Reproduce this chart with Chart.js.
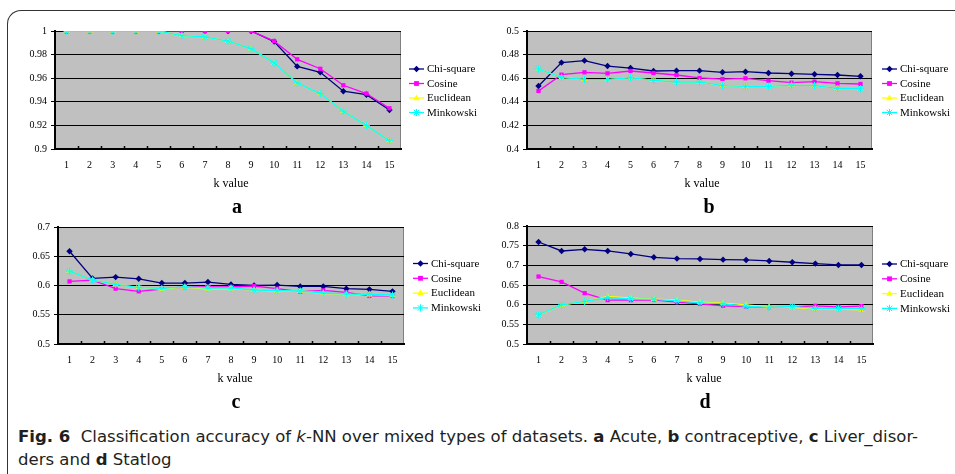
<!DOCTYPE html>
<html>
<head>
<meta charset="utf-8">
<script src="https://cdn.jsdelivr.net/npm/chart.js@4.4.1/dist/chart.umd.min.js"></script>
<style>
  body { margin: 0; background: #fff; }
  #wrap { position: relative; width: 955px; height: 474px; overflow: hidden; background: #fff; }
  #frame { position: absolute; left: 7px; top: 10px; width: 1000px; height: 500px;
           border-top: 1.5px solid #333; border-left: 1.5px solid #333; border-top-left-radius: 14px; }
  canvas { position: absolute; }
  .lbl { position: absolute; transform: translate(-50%, -50%); font-family: "Liberation Serif", serif;
         white-space: nowrap; color: #000; }
  .axt { font-size: 12px; }
  .let { font-size: 20px; font-weight: bold; }
  .cap { position: absolute; left: 18px; font-family: "DejaVu Sans Condensed", "Liberation Sans", sans-serif;
         font-size: 15px; color: #231f20; white-space: nowrap; transform-origin: left center; }
</style>
</head>
<body>
<div id="wrap">
  <div id="frame"></div>
  <canvas id="ca"></canvas>
  <canvas id="cb"></canvas>
  <canvas id="cc"></canvas>
  <canvas id="cd"></canvas>
  <div class="lbl axt" style="left:231px;top:183px">k value</div>
  <div class="lbl axt" style="left:702px;top:183px">k value</div>
  <div class="lbl axt" style="left:235px;top:378px">k value</div>
  <div class="lbl axt" style="left:704px;top:378px">k value</div>
  <div class="lbl let" style="left:237px;top:206px">a</div>
  <div class="lbl let" style="left:709px;top:206px">b</div>
  <div class="lbl let" style="left:236px;top:401px">c</div>
  <div class="lbl let" style="left:705px;top:401px">d</div>
  <div class="cap" id="cap1" style="top:428px"><b>Fig. 6</b>&nbsp; Classification accuracy of <i>k</i>-NN over mixed types of datasets. <b>a</b> Acute, <b>b</b> contraceptive, <b>c</b> Liver_disor-</div>
  <div class="cap" id="cap2" style="top:451px">ders and <b>d</b> Statlog</div>
</div>
<script>
const kValues = ['1','2','3','4','5','6','7','8','9','10','11','12','13','14','15'];
const seriesNames = ['Chi-square', 'Cosine', 'Euclidean', 'Minkowski'];

// a: Acute
const acuteChi  = [1, 1, 1, 1, 1, 1, 1, 1, 1, 0.991, 0.970, 0.965, 0.949, 0.946, 0.933];
const acuteCos  = [1, 1, 1, 1, 1, 1, 1, 1, 1, 0.9915, 0.976, 0.968, 0.954, 0.947, 0.9345];
const acuteEuc  = [1, 1, 1, 1, 1, 0.996, 0.995, 0.9915, 0.985, 0.973, 0.956, 0.947, 0.932, 0.920, 0.907];
const acuteMink = [1, 1, 1, 1, 1, 0.996, 0.995, 0.9915, 0.985, 0.973, 0.956, 0.947, 0.932, 0.920, 0.907];

// b: contraceptive
const contraChi  = [0.4534, 0.4732, 0.4749, 0.4703, 0.4686, 0.4661, 0.4664, 0.4664, 0.465, 0.4655, 0.4644, 0.4638, 0.4633, 0.4627, 0.4616];
const contraCos  = [0.4492, 0.463, 0.465, 0.4641, 0.4661, 0.4644, 0.4627, 0.4602, 0.4593, 0.4599, 0.4579, 0.4562, 0.4571, 0.4556, 0.4551];
const contraEuc  = [0.4678, 0.4607, 0.459, 0.4588, 0.4605, 0.4582, 0.4568, 0.4568, 0.4537, 0.4531, 0.4531, 0.4542, 0.4537, 0.4514, 0.4511];
const contraMink = [0.4678, 0.4607, 0.459, 0.4588, 0.4605, 0.4582, 0.4568, 0.4568, 0.4537, 0.4531, 0.4531, 0.4542, 0.4537, 0.4514, 0.4511];

// c: Liver_disorders
const liverChi  = [0.6585, 0.6121, 0.6144, 0.6115, 0.6042, 0.6042, 0.6059, 0.6019, 0.6002, 0.6008, 0.5985, 0.5985, 0.5946, 0.5934, 0.590];
const liverCos  = [0.607, 0.6093, 0.5946, 0.590, 0.594, 0.5974, 0.5974, 0.5974, 0.5991, 0.5946, 0.5895, 0.5917, 0.5883, 0.5821, 0.5821];
const liverEuc  = [0.6246, 0.6093, 0.6019, 0.5968, 0.5934, 0.5974, 0.594, 0.5946, 0.5923, 0.5906, 0.5906, 0.5866, 0.5849, 0.5844, 0.5832];
const liverMink = [0.6246, 0.6093, 0.6019, 0.5962, 0.5951, 0.5974, 0.5957, 0.5957, 0.5923, 0.5912, 0.5906, 0.5872, 0.5855, 0.5849, 0.5838];

// d: Statlog
const statChi  = [0.7593, 0.7365, 0.7407, 0.7365, 0.7289, 0.7204, 0.7171, 0.7162, 0.7145, 0.7137, 0.7111, 0.7078, 0.7044, 0.701, 0.701];
const statCos  = [0.6715, 0.6579, 0.6292, 0.6115, 0.6115, 0.6123, 0.6064, 0.6022, 0.5971, 0.5954, 0.5938, 0.5946, 0.5971, 0.5946, 0.5963];
const statEuc  = [0.5743, 0.5988, 0.6081, 0.6208, 0.6166, 0.614, 0.6115, 0.6064, 0.6039, 0.5997, 0.5946, 0.5929, 0.5895, 0.5887, 0.587];
const statMink = [0.5743, 0.5997, 0.6081, 0.6182, 0.6149, 0.6132, 0.6098, 0.6047, 0.6022, 0.5963, 0.5929, 0.5954, 0.5904, 0.5904, 0.5904];

const colors = ['#000080', '#FF00FF', '#FFFF00', '#00FFFF'];
const markers = ['rectRot', 'rect', 'triangle', 'star'];
const markerSize = [3.2, 3, 3.6, 3.6];
const serif = '"Liberation Serif", "Times New Roman", serif';

function drawMarker(ctx, style, x, y, r, color) {
    ctx.save();
    ctx.fillStyle = color;
    ctx.strokeStyle = color;
    ctx.lineWidth = 1;
    ctx.beginPath();
    if (style === 'rectRot') {
        ctx.moveTo(x, y - r); ctx.lineTo(x + r, y); ctx.lineTo(x, y + r); ctx.lineTo(x - r, y);
        ctx.closePath(); ctx.fill();
    } else if (style === 'rect') {
        const s = r * 0.8;
        ctx.rect(x - s, y - s, 2 * s, 2 * s); ctx.fill();
    } else if (style === 'triangle') {
        ctx.moveTo(x, y - r); ctx.lineTo(x + r * 0.9, y + r * 0.6); ctx.lineTo(x - r * 0.9, y + r * 0.6);
        ctx.closePath(); ctx.fill();
    } else {
        const d = r * 0.75;
        ctx.moveTo(x - d, y - d); ctx.lineTo(x + d, y + d);
        ctx.moveTo(x + d, y - d); ctx.lineTo(x - d, y + d);
        ctx.moveTo(x, y - r); ctx.lineTo(x, y + r);
        ctx.stroke();
    }
    ctx.restore();
}

// grey plot background, inward x ticks and the line+marker legend
const panelPlugin = {
    id: 'panel',
    beforeDraw(chart) {
        const a = chart.chartArea;
        const ctx = chart.ctx;
        ctx.save();
        ctx.fillStyle = '#C0C0C0';
        ctx.fillRect(a.left, a.top, a.right - a.left, a.bottom - a.top);
        ctx.strokeStyle = '#808080';
        ctx.lineWidth = 1;
        ctx.beginPath();
        ctx.moveTo(a.right - 0.5, a.top); ctx.lineTo(a.right - 0.5, a.bottom);
        ctx.stroke();
        ctx.restore();
    },
    afterDraw(chart, args, opts) {
        const ctx = chart.ctx;
        const xs = chart.scales.x;
        const a = chart.chartArea;
        ctx.save();
        ctx.strokeStyle = '#000';
        ctx.lineWidth = 1.5;
        ctx.beginPath();
        for (let i = 0; i < kValues.length - 1; i++) {
            const px = Math.round((xs.getPixelForTick(i) + xs.getPixelForTick(i + 1)) / 2) + 0.5;
            ctx.moveTo(px, a.bottom); ctx.lineTo(px, a.bottom - 3);
        }
        ctx.stroke();
        // legend
        ctx.font = '11px ' + serif;
        ctx.textBaseline = 'middle';
        ctx.fillStyle = '#000';
        seriesNames.forEach((name, i) => {
            const y = opts.ly + i * opts.gap;
            ctx.strokeStyle = colors[i];
            ctx.lineWidth = 1.3;
            ctx.beginPath();
            ctx.moveTo(opts.lx, y); ctx.lineTo(opts.lx + 15, y);
            ctx.stroke();
            drawMarker(ctx, markers[i], opts.lx + 7.5, y, markerSize[i], colors[i]);
            ctx.fillStyle = '#000';
            ctx.fillText(name, opts.lx + 18, y + 0.5);
        });
        ctx.restore();
    }
};

function makePanel(id, plot, yMin, yMax, step, values, legend) {
    const canvas = document.getElementById(id);
    const left = plot.l - 50, top = plot.t - 10;
    const width = legend.x + 78 - left, height = plot.b + 27 - top;
    canvas.width = width; canvas.height = height;
    canvas.style.left = left + 'px'; canvas.style.top = top + 'px';
    canvas.style.width = width + 'px'; canvas.style.height = height + 'px';

    const datasets = values.map((data, i) => ({
        label: seriesNames[i],
        data: data,
        borderColor: colors[i],
        backgroundColor: colors[i],
        borderWidth: 1.3,
        pointStyle: markers[i],
        pointRadius: markerSize[i],
        pointBorderWidth: markers[i] === 'star' ? 1 : 0,
        pointBorderColor: colors[i],
        pointBackgroundColor: colors[i],
        tension: 0,
        order: 4 - i
    }));

    new Chart(canvas.getContext('2d'), {
        type: 'line',
        data: { labels: kValues, datasets: datasets },
        options: {
            responsive: false,
            animation: false,
            devicePixelRatio: 1,
            events: [],
            layout: { padding: { top: 10, left: 0, bottom: 0, right: width - (plot.r - left) } },
            plugins: {
                legend: { display: false },
                tooltip: { enabled: false },
                panel: { lx: legend.x - left, ly: legend.y - top, gap: legend.gap }
            },
            scales: {
                x: {
                    offset: true,
                    grid: { display: false, drawTicks: false, offset: true },
                    border: { display: true, color: '#000', width: 2 },
                    ticks: { color: '#000', font: { family: serif, size: 10 }, padding: 10, maxRotation: 0, autoSkip: false },
                    afterFit: s => { s.height = 27; }
                },
                y: {
                    min: yMin, max: yMax,
                    grid: { color: '#000', lineWidth: 1, tickLength: 4, drawTicks: true },
                    border: { display: true, color: '#000', width: 2 },
                    ticks: {
                        stepSize: step, color: '#000', padding: 4,
                        font: { family: serif, size: 10 },
                        callback: v => String(Number(v.toFixed(3)))
                    },
                    afterFit: s => { s.width = 50; }
                }
            }
        },
        plugins: [panelPlugin]
    });
}

makePanel('ca', { l: 55, t: 31, r: 401, b: 149 }, 0.9, 1, 0.02,
    [acuteChi, acuteCos, acuteEuc, acuteMink], { x: 409, y: 69, gap: 14.5 });
makePanel('cb', { l: 527, t: 31, r: 872, b: 149 }, 0.4, 0.5, 0.02,
    [contraChi, contraCos, contraEuc, contraMink], { x: 882, y: 69, gap: 14.5 });
makePanel('cc', { l: 58, t: 227, r: 404, b: 344 }, 0.5, 0.7, 0.05,
    [liverChi, liverCos, liverEuc, liverMink], { x: 413, y: 263.5, gap: 14.8 });
makePanel('cd', { l: 527, t: 226, r: 873, b: 344 }, 0.5, 0.8, 0.05,
    [statChi, statCos, statEuc, statMink], { x: 882, y: 264, gap: 14.8 });

// stretch caption line to the width it has in the figure
const cap1 = document.getElementById('cap1');
const sc = 900 / cap1.scrollWidth;
cap1.style.transform = 'scaleX(' + sc + ')';
document.getElementById('cap2').style.transform = 'scaleX(' + sc + ')';
</script>
</body>
</html>
